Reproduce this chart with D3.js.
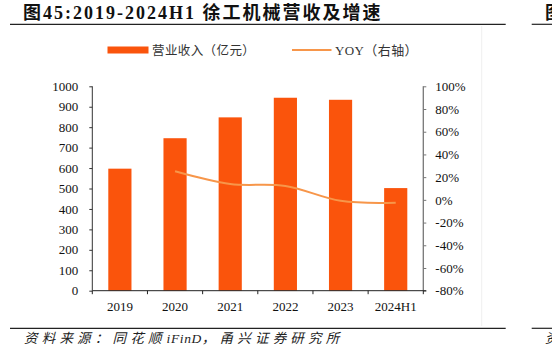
<!DOCTYPE html>
<html>
<head>
<meta charset="utf-8">
<script src="https://cdn.jsdelivr.net/npm/d3@7"></script>
<style>
  html, body { margin: 0; padding: 0; background: #fff; }
  svg { display: block; }
</style>
</head>
<body>
<svg id="chart" width="552" height="351"></svg>
<script>
// ---- data ----
const categories = ["2019", "2020", "2021", "2022", "2023", "2024H1"];
const revenue = [597, 746, 848, 944, 934, 502];           // 营业收入（亿元）
const yoy = [null, 25.2, 14.0, 12.3, -0.8, -2.5];         // YOY %（右轴）
const leftTicks = [0, 100, 200, 300, 400, 500, 600, 700, 800, 900, 1000];
const rightTicks = [-80, -60, -40, -20, 0, 20, 40, 60, 80, 100];
const titleText = "图45:2019-2024H1 徐工机械营收及增速";
const sourceParts = ["资料来源：同花顺", "iFinD", "，甬兴证券研究所"];
const legendBar = "营业收入（亿元）";
const legendLine = "YOY（右轴）";

// ---- layout ----
const svg = d3.select("#chart");
const L = 92.3, R = 423.3, T = 86.3, B = 290.7;
const barColor = "#FA540C";
const lineColor = "#F7964A";
const serif = "'Liberation Serif','Times New Roman','Noto Sans CJK SC',serif";

const x = d3.scaleBand().domain(categories).range([L, R]).paddingInner(0).paddingOuter(0);
const step = x.step();
const barW = step * 0.42;
const yL = d3.scaleLinear().domain([0, 1000]).range([B, T]);
const yR = d3.scaleLinear().domain([-80, 100]).range([B, T]);

// faint frame line at right of chart area
svg.append("line").attr("x1", 481.7).attr("x2", 481.7).attr("y1", 26).attr("y2", 326)
  .attr("stroke", "#efefef").attr("stroke-width", 1);

// title
svg.append("text").attr("x", 23).attr("y", 18.5)
  .attr("font-family", serif).attr("font-weight", "bold").attr("font-size", 18)
  .attr("letter-spacing", 2).attr("fill", "#111").text(titleText);
svg.append("text").attr("x", 545).attr("y", 18.5)
  .attr("font-family", serif).attr("font-weight", "bold").attr("font-size", 18)
  .attr("fill", "#111").text("图");
// title rules
svg.append("line").attr("x1", 10).attr("x2", 505.7).attr("y1", 24.3).attr("y2", 24.3)
  .attr("stroke", "#222").attr("stroke-width", 1.2);
svg.append("line").attr("x1", 531.7).attr("x2", 552).attr("y1", 24.3).attr("y2", 24.3)
  .attr("stroke", "#222").attr("stroke-width", 1.2);

// bottom rules + source
svg.append("line").attr("x1", 10).attr("x2", 505.7).attr("y1", 328.3).attr("y2", 328.3)
  .attr("stroke", "#222").attr("stroke-width", 1.2);
svg.append("line").attr("x1", 531.7).attr("x2", 552).attr("y1", 328.3).attr("y2", 328.3)
  .attr("stroke", "#222").attr("stroke-width", 1.2);
const src = svg.append("text").attr("x", 24).attr("y", 343)
  .attr("font-family", "'Liberation Serif','Noto Sans CJK SC',serif").attr("font-style", "italic")
  .attr("font-size", 13.5).attr("fill", "#222");
src.selectAll("tspan").data(sourceParts).join("tspan")
  .attr("letter-spacing", (d, i) => (i === 1 ? 0.6 : 4.2))
  .attr("dx", (d, i) => (i === 1 ? 1 : 0))
  .text((d) => d);
svg.append("text").attr("x", 545).attr("y", 343)
  .attr("font-family", "'Noto Sans CJK SC',serif").attr("font-style", "italic")
  .attr("font-size", 13.5).attr("fill", "#222").text("资");

// legend
svg.append("rect").attr("x", 107.5).attr("y", 46.5).attr("width", 41).attr("height", 7)
  .attr("fill", barColor);
svg.append("text").attr("x", 152).attr("y", 54.5)
  .attr("font-family", "'Noto Sans CJK SC',sans-serif").attr("font-size", 12.5)
  .attr("letter-spacing", 0.4).attr("fill", "#333").text(legendBar);
svg.append("line").attr("x1", 292).attr("x2", 331.5).attr("y1", 50).attr("y2", 50)
  .attr("stroke", lineColor).attr("stroke-width", 2);
svg.append("text").attr("x", 335).attr("y", 54.5)
  .attr("font-family", serif).attr("font-size", 13)
  .attr("letter-spacing", 0.4).attr("fill", "#333").text(legendLine);

// bars
svg.append("g").selectAll("rect").data(categories).join("rect")
  .attr("x", (d) => x(d) + step / 2 - barW / 2)
  .attr("y", (d, i) => yL(revenue[i]))
  .attr("width", barW)
  .attr("height", (d, i) => B - yL(revenue[i]))
  .attr("fill", barColor);

// left axis
const gL = svg.append("g").attr("transform", `translate(${L},0)`)
  .call(d3.axisLeft(yL).tickValues(leftTicks).tickSize(3).tickPadding(11).tickFormat(d3.format("d")));
gL.select(".domain").attr("stroke", "#333").attr("d", `M0,${B}V${T}`);
gL.selectAll(".tick line").attr("stroke", "#333");
gL.selectAll("text").attr("font-family", serif).attr("font-size", 13).attr("fill", "#111");

// right axis
const gR = svg.append("g").attr("transform", `translate(${R},0)`)
  .call(d3.axisRight(yR).tickValues(rightTicks).tickSize(3).tickPadding(9).tickFormat((d) => d + "%"));
gR.select(".domain").attr("stroke", "#777").attr("stroke-width", 1.3).attr("d", `M0,${B}V${T}`);
gR.selectAll(".tick line").attr("stroke", "#777");
gR.selectAll("text").attr("font-family", serif).attr("font-size", 13).attr("fill", "#111");

// bottom axis
const gB = svg.append("g").attr("transform", `translate(0,${B})`)
  .call(d3.axisBottom(x).tickSize(0).tickPadding(11));
gB.select(".domain").attr("stroke", "#222").attr("d", `M${L},0H${R + 3}`);
gB.selectAll("text").attr("font-family", serif).attr("font-size", 13).attr("fill", "#111");
// boundary ticks
const bounds = d3.range(categories.length + 1).map((i) => L + i * step);
gB.append("g").selectAll("line").data(bounds).join("line")
  .attr("x1", (d) => d).attr("x2", (d) => d).attr("y1", 0).attr("y2", 3.5)
  .attr("stroke", "#222");

// YOY line
const pts = categories.map((c, i) => ({ c, v: yoy[i] })).filter((p) => p.v !== null);
const line = d3.line().x((p) => x(p.c) + step / 2).y((p) => yR(p.v)).curve(d3.curveCardinal.tension(0));
svg.append("path").attr("d", line(pts)).attr("fill", "none")
  .attr("stroke", lineColor).attr("stroke-width", 2);
</script>
</body>
</html>
